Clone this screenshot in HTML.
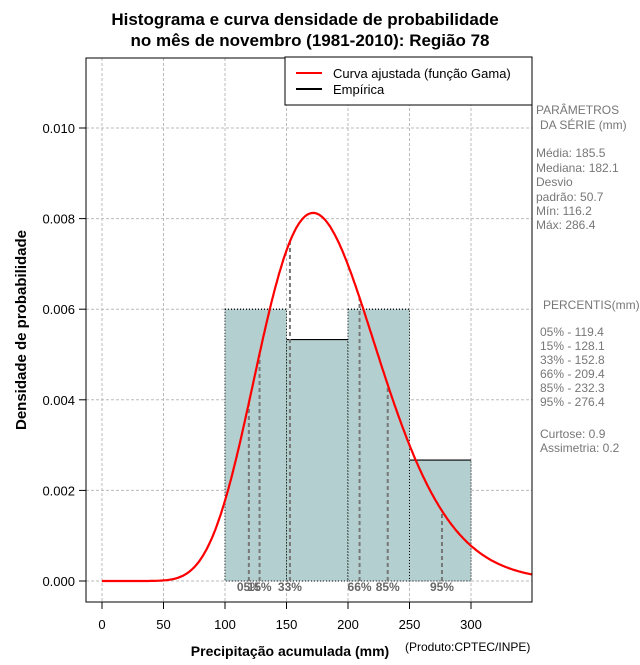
<!DOCTYPE html>
<html><head><meta charset="utf-8"><style>
body{margin:0;background:#fff;font-family:"Liberation Sans",sans-serif}
svg text{font-family:"Liberation Sans",sans-serif}
</style></head><body>
<svg id="c" width="640" height="660" xmlns="http://www.w3.org/2000/svg">
<text x="305" y="25" text-anchor="middle" font-size="17" font-weight="bold">Histograma e curva densidade de probabilidade</text>
<text x="310" y="46" text-anchor="middle" font-size="17" font-weight="bold">no mês de novembro (1981-2010): Região 78</text>
<g id="grid"></g>
<g id="bars"></g>
<g id="pct"></g>
<path id="curve" fill="none" stroke="#f00" stroke-width="2.2"/>
<rect x="86" y="58" width="446" height="544" fill="none" stroke="#000" stroke-width="1"/>
<g id="axes"></g>
<text transform="translate(26,330) rotate(-90)" text-anchor="middle" font-size="15" font-weight="bold">Densidade de probabilidade</text>
<text x="290" y="656" text-anchor="middle" font-size="14" font-weight="bold">Precipitação acumulada (mm)</text>
<text x="405" y="651" font-size="12">(Produto:CPTEC/INPE)</text>
<g>
<rect x="285" y="57" width="247" height="48" fill="#fff" stroke="#000"/>
<line x1="296" y1="73" x2="322" y2="73" stroke="#f00" stroke-width="2"/>
<text x="333" y="78" font-size="13">Curva ajustada (função Gama)</text>
<line x1="296" y1="89" x2="322" y2="89" stroke="#000" stroke-width="2"/>
<text x="333" y="94" font-size="13">Empírica</text>
</g>
<g font-size="12" fill="#777">
<text x="536" y="114">PARÂMETROS</text><text x="540" y="129">DA SÉRIE (mm)</text>
<text x="536" y="157">Média:  185.5</text><text x="536" y="172">Mediana:  182.1</text>
<text x="536" y="186">Desvio</text><text x="536" y="201">padrão:  50.7</text>
<text x="536" y="215">Mín:  116.2</text><text x="536" y="229">Máx:  286.4</text>
<text x="543" y="309">PERCENTIS(mm)</text>
<text x="540" y="336">05% -  119.4</text><text x="540" y="350">15% -  128.1</text>
<text x="540" y="364">33% -  152.8</text><text x="540" y="378">66% -  209.4</text>
<text x="540" y="392">85% -  232.3</text><text x="540" y="406">95% -  276.4</text>
<text x="540" y="438">Curtose:  0.9</text><text x="540" y="452">Assimetria:  0.2</text>
</g>
</svg>
<script>
const binStarts=[100,150,200,250];
const binDensity=[0.006,0.00533,0.006,0.00267];
const binWidth=50;
const seriesMean=185.5;
const seriesSd=50.7;
const pctLabels=["05%","15%","33%","66%","85%","95%"];
const pctValues=[119.4,128.1,152.8,209.4,232.3,276.4];
const xTicks=[0,50,100,150,200,250,300];
const yTicks=[0,0.002,0.004,0.006,0.008,0.010];
const yTickLabels=["0.000","0.002","0.004","0.006","0.008","0.010"];
const NS="http://www.w3.org/2000/svg";
const X=v=>102+v*(471-102)/300;
const Y=v=>581-v*(581-128)/0.01;
function mk(t,a,p){const e=document.createElementNS(NS,t);for(const k in a)e.setAttribute(k,a[k]);p.appendChild(e);return e;}
const k=(seriesMean/seriesSd)**2, th=seriesSd**2/seriesMean;
function lgam(z){const g=7,c=[0.99999999999980993,676.5203681218851,-1259.1392167224028,771.32342877765313,-176.61502916214059,12.507343278686905,-0.13857109526572012,9.9843695780195716e-6,1.5056327351493116e-7];z-=1;let x=c[0];for(let i=1;i<9;i++)x+=c[i]/(z+i);const t=z+g+0.5;return 0.5*Math.log(2*Math.PI)+(z+0.5)*Math.log(t)-t+Math.log(x);}
const pdf=x=>x<=0?0:Math.exp((k-1)*Math.log(x)-x/th-lgam(k)-k*Math.log(th));
const grid=document.getElementById('grid'),bars=document.getElementById('bars'),pct=document.getElementById('pct'),axes=document.getElementById('axes');
xTicks.forEach(v=>{const l=mk('line',{x1:X(v),x2:X(v),y1:58,y2:602,stroke:'#bbb','stroke-dasharray':'3,2'},grid);
});
yTicks.forEach(v=>{const l=mk('line',{x1:86,x2:532,y1:Y(v),y2:Y(v),stroke:'#bbb','stroke-dasharray':'3,2'},grid);
});
binStarts.forEach((s,i)=>{const r=mk('rect',{x:X(s),y:Y(binDensity[i]),width:X(s+binWidth)-X(s),height:Y(0)-Y(binDensity[i]),fill:'#b4cfcf',stroke:'#000','stroke-dasharray':'1,2'},bars);

const t=mk('line',{x1:X(s),x2:X(s+binWidth),y1:Y(binDensity[i]),y2:Y(binDensity[i]),stroke:'#000','stroke-width':1.2,'stroke-dasharray':(i>0&&binDensity[i]<binDensity[i-1])?'none':'1,2'},bars);
});
pctValues.forEach((v,i)=>{const l=mk('line',{x1:X(v),x2:X(v),y1:Y(0),y2:Y(pdf(v)),stroke:'#777','stroke-width':2,'stroke-dasharray':'4,3'},pct);

const t=mk('text',{x:X(v),y:591,'text-anchor':'middle','font-size':12,'font-weight':'bold',fill:'#666'},pct);t.textContent=pctLabels[i];
});
let d='';for(let x=0;x<=350;x+=1){d+=(x?'L':'M')+X(x).toFixed(1)+','+Y(pdf(x)).toFixed(1);}
document.getElementById('curve').setAttribute('d',d);
xTicks.forEach(v=>{const l=mk('line',{x1:X(v),x2:X(v),y1:602,y2:609,stroke:'#000'},axes);

const t=mk('text',{x:X(v),y:629,'text-anchor':'middle','font-size':13},axes);t.textContent=v;
});
yTicks.forEach((v,i)=>{const l=mk('line',{x1:79,x2:86,y1:Y(v),y2:Y(v),stroke:'#000'},axes);

const t=mk('text',{x:75,y:Y(v)+5,'text-anchor':'end','font-size':13},axes);t.textContent=yTickLabels[i];
});
</script>
</body></html>
